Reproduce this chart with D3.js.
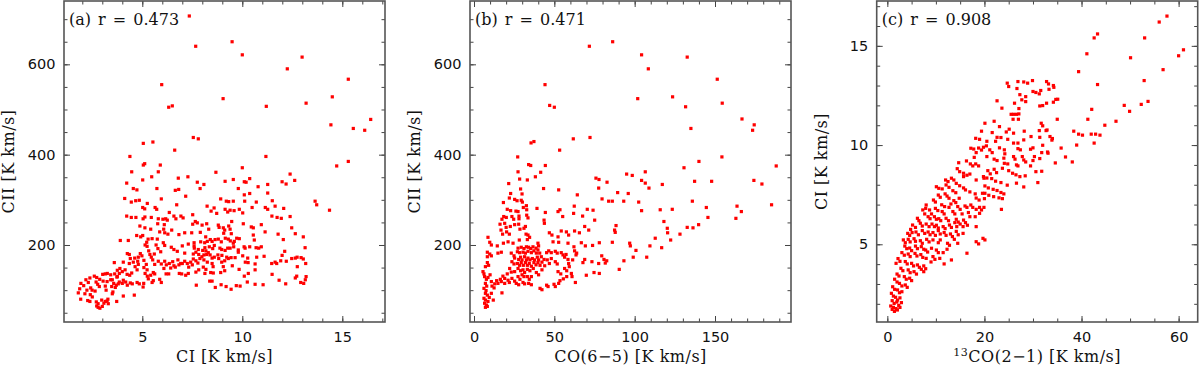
<!DOCTYPE html>
<html>
<head>
<meta charset="utf-8">
<script src="https://cdn.jsdelivr.net/npm/d3@7"></script>
<style>
body { margin: 0; background: #fff; }
svg text { fill: #111; }
</style>
</head>
<body>
<script>
/** panel (a): CI vs CII [K km/s] **/
var ciCii = [
[7.35,707],[7.67,640],[9.49,650],[10.0,621],[12.99,616],[12.25,590],[15.3,567],[5.97,555],[9.04,524],[14.5,528],[13.19,514],[6.32,505],[6.5,508],[11.2,507],[16.42,478],[14.43,466],[15.55,458],[16.12,454],[15.3,385],[14.72,375],[14.36,277],[13.64,297],[13.72,289],
[5.05,425],[5.53,428],[4.38,396],[6.62,410],[5.05,377],[5.12,380],[5.9,377],[4.47,362],[5.02,344],[5.47,351],[5.8,362],[6.8,348],[7.28,351],[4.22,337],[4.55,325],[4.73,322],[5.73,325],[6.65,321],[6.82,323],[4.12,303],[4.45,295],[4.67,298],[4.85,299],[5.95,302],[5.25,292],[7.17,308],
[5.02,283],[5.12,280],[5.64,283],[5.72,279],[6.35,272],[6.72,289],[6.93,264],[4.22,264],[4.45,261],[4.68,261],[5.04,258],[5.13,262],[5.45,261],[5.8,258],[6.03,257],[6.17,258],[6.25,255],[6.58,264],[6.68,258],[7.04,260],[4.88,242],[5.13,238],[5.42,235],[5.77,247],[6.1,245],[5.87,229],[6.07,235],[6.12,227],[6.28,224],[6.47,233],[6.83,223],[7.12,227],[4.72,221],[4.92,218],[5.02,221],[5.29,213],[5.49,214],[5.75,213],[5.22,206],[5.14,200],[5.24,197],[6.05,205],[6.12,199],[5.69,200],[3.9,210],[4.3,210],[4.25,181],[4.35,179],[4.9,181],[5.32,187],[5.6,180],[5.78,192],[5.92,185],[6.45,195],[6.58,190],[6.75,186],[7.0,198],[7.3,202],[7.12,182],
[3.6,161],[4.05,162],[4.4,170],[4.62,171],[4.8,173],[4.98,176],[4.35,159],[4.55,162],[4.77,164],[4.8,157],[5.08,166],[5.2,157],[5.38,179],[5.45,173],[5.52,167],[5.62,157],[5.8,164],[5.95,158],[6.12,164],[6.2,156],[6.35,159],[6.52,163],[6.78,167],[7.0,159],[7.12,164],[7.25,159],[7.42,162],[6.08,148],[6.32,136],[6.85,137],[6.97,136],[7.3,137],[5.08,150],[5.24,145],[5.55,139],[5.62,136],[4.64,152],[4.74,145],[4.47,138],[4.24,135],[4.37,133],[4.14,145],[3.88,148],[4.0,141],[3.75,144],[3.85,137],[3.62,136],[3.75,130],[3.25,137],[3.42,134],[3.5,123],[3.57,115],[3.73,129],[3.42,123],[3.47,108],[3.24,119],[3.15,109],[3.19,100],[3.02,135],[2.87,124],[2.6,131],[2.72,128],[2.38,127],[2.18,123],[2.3,117],[1.93,115],[2.07,110],[1.87,103],[1.8,94],[1.92,80],[2.13,92],[2.23,100],[2.42,105],[2.49,100],[2.69,118],[2.77,113],[3.04,120],[3.15,136],[2.85,108],[2.64,98],[2.4,90],[2.5,85],[2.27,77],[2.38,75],[2.7,74],[2.79,70],[2.72,65],[2.79,62],[2.88,60],[3.0,64],[3.08,71],[3.15,75],[3.24,76],[3.3,70],[3.28,80],[2.97,78],[3.5,92],[3.53,96],[3.65,106],[3.72,75],[4.05,87],[4.6,89],[5.04,107],[5.07,115],[4.74,117],[4.85,114],[4.4,116],[4.5,114],[4.25,111],[4.05,122],[4.17,118],[3.85,118],[4.0,115],[3.7,111],[3.8,114],[5.49,117],[5.55,121],[5.3,125],[5.42,133],[5.14,137],[5.25,131],[5.87,124],[5.95,117],[6.19,136],[6.42,149],[6.58,154],[6.65,151],[6.83,156],[6.92,159],[7.32,151],[7.17,133],
[7.55,438],[7.8,435],[11.18,396],[10.0,371],[8.68,361],[12.39,357],[7.75,339],[8.08,334],[9.14,341],[9.55,345],[10.1,340],[10.19,339],[10.37,347],[11.99,340],[12.19,335],[12.62,343],[7.89,325],[9.8,325],[10.79,329],[11.27,334],[10.1,311],[10.37,314],[11.27,315],[8.92,302],[9.2,297],[9.32,296],[9.55,297],[10.12,297],[10.7,295],[11.5,298],[11.64,286],[12.07,281],[8.24,286],[8.44,275],[8.59,282],[8.72,270],[9.14,279],[9.27,273],[9.39,277],[9.59,276],[9.85,279],[10.02,271],[10.49,283],[11.15,283],[11.27,279],[11.48,264],[11.74,261],[11.95,259],[12.39,263],[7.52,267],[7.65,252],[7.75,249],[7.99,244],[8.22,247],[8.32,235],[8.8,244],[8.84,239],[9.05,238],[9.12,233],[9.32,242],[9.39,235],[9.47,252],[9.07,226],[9.45,225],[10.05,247],[10.45,240],[10.55,238],[10.55,222],[10.6,211],[10.95,245],[11.14,229],[11.79,224],[12.05,212],[12.47,238],[12.65,225],[13.05,218],[13.14,194],[7.52,246],[7.47,227],[7.9,228],[8.17,218],[8.4,212],[8.49,208],[8.64,212],[8.8,213],[8.95,207],[9.15,215],[9.3,213],[9.6,208],[9.72,215],[9.85,214],[9.4,209],[9.55,204],[9.57,196],[7.59,205],[7.59,198],[7.6,193],[7.92,207],[8.12,205],[8.25,208],[8.35,196],[8.52,192],[8.6,199],[8.88,193],[8.97,190],[9.14,188],[9.27,193],[9.39,193],[9.8,189],[10.09,196],[10.14,193],[10.37,196],[10.69,194],[10.82,193],[10.95,196],[7.8,190],[8.02,188],[8.13,194],[8.18,187],
[7.55,180],[7.68,184],[7.82,179],[7.98,174],[8.08,178],[8.22,179],[8.3,183],[8.39,178],[8.49,171],[8.6,173],[8.78,178],[8.98,177],[9.22,173],[9.44,172],[9.8,184],[10.02,176],[10.27,171],[10.72,173],[11.09,175],[7.55,169],[7.68,165],[7.88,170],[8.08,167],[7.78,160],[8.25,162],[8.49,159],[8.82,170],[8.97,162],[9.12,165],[9.3,170],[9.64,172],[7.5,156],[8.05,151],[8.18,146],[8.54,152],[9.05,152],[9.12,143],[9.5,154],[9.84,146],[10.15,162],[10.29,161],[10.64,158],[10.64,145],[10.3,137],[10.1,131],[11.47,159],[11.64,162],[11.72,159],[11.99,177],[12.12,186],[11.92,165],[12.2,164],[12.47,170],[12.65,171],[12.74,173],[12.94,172],[13.05,169],[13.17,159],[12.75,152],[7.68,140],[7.82,145],[8.13,137],[8.42,139],[8.55,138],[8.92,139],[8.37,120],[8.49,120],[7.7,111],[8.65,106],[8.94,112],[9.19,108],[9.44,102],[9.7,110],[9.89,109],[10.25,118],[10.64,113],[11.04,112],[11.49,135],[11.84,122],[12.17,114],[12.65,127],[12.72,131],[12.92,117],[13.07,115],[13.15,123],[13.19,130]
];

/** panel (b): CO(6-5) vs CII [K km/s] **/
var co65Cii = [
[71.8,640],[86.3,650],[104.3,621],[108.5,590],[132.7,616],[151.4,567],[44.2,555],[101.9,524],[123.6,528],[154.5,514],[47.1,509],[50,505],[131.7,506],[166.8,479],[174.4,466],[173.4,454],[135,458],[72.2,438],[61.8,435],[35.5,426],[37.3,429],[53.3,410],[27.2,395],[154.3,395],[188.1,375],[140,385],[130.7,371],[106.6,362],[95,357],[98.5,354],[104.3,343],[106.6,337],[82.8,339],[137.3,341],[147.9,341],[174.2,343],[179.2,335],[117.2,334],[108.9,326],[77.6,326],[89.4,316],[96,314],[79.7,302],[83.8,297],[86.1,297],[93.2,297],[102.5,295],[135.9,297],[185.2,289],[163.7,286],[166.4,274],[144.6,283],[115.9,278],[123.4,279],[104.3,276],[163,259],[145.6,261],[139.8,245],[132.7,239],[136.3,238],[118.2,252],[120.3,237],[120.5,227],[128.2,224],[122.4,211],[112.8,215],[109.5,198],[100.8,188],[96.9,204],[97.3,198],[116.8,194],[107.5,173],[99.1,173],[93.3,165],[90.4,146],[87.5,233],[87.9,228],[88.4,243],[86.1,206],[78,205],[79.5,176],[80.9,168],[81.7,160],[82.6,165],[77.6,159],[78,137],[75.9,348],[77.8,345],
[21.6,336],[27.4,362],[28.4,346],[33.2,344],[38.2,351],[41.5,361],[44.4,376],[34,378],[35.3,376],[43.3,325],[52.7,322],[29.0,324],[22.8,314],[25.3,301],[26.8,298],[29.4,299],[30.1,295],[29.9,313],[30.7,283],[32.6,287],[18.3,294],[22,304],[20.7,279],[22.8,276],[26.1,275],[27.4,274],[32.8,278],[18.5,263],[20.1,261],[17.4,257],[23.6,263],[24.7,257],[28,264],[28,258],[32.8,266],[33.6,260],[39.2,281],[44.4,272],[52.3,274],[53.5,278],[55.2,263],[62.4,286],[64.3,311],[70.5,279],[74.1,277],[67.6,264],[62,270],[16.2,246],[19.1,248],[20,239],[22.6,241],[25.3,245],[16.8,233],[17.8,224],[20.3,229],[22,224],[27.8,246],[28.6,235],[31.1,237],[32,241],[32.4,224],[33.6,222],[34.6,217],[33.2,212],[18.3,204],[21.2,207],[24.3,204],[28.2,211],[8.7,217],[9.8,206],[10.8,200],[14.5,198],[43.6,255],[43.8,248],[46.9,227],[48.5,222],[52.3,218],[54.3,231],[57.5,229],[58.9,222],[62.6,231],[65.6,227],[68.9,241],[71.4,233],[75.1,255],[49.2,207],[52.7,206],[39.8,204],[40.2,198],[58.5,204],[62.2,196],[66.8,205],[69.3,198],[73.8,199],
[8.3,184],[8.3,174],[9.8,180],[10.8,176],[14.9,182],[17,184],[23.2,182],[24.9,176],[27.4,193],[29.4,195],[31.1,192],[32.6,196],[34,195],[35.3,192],[36.7,196],[38.6,193],[39.8,189],[27,185],[28.4,183],[30.5,184],[32,182],[33.6,186],[35.7,183],[37.3,187],[38.8,182],[40.9,182],[45.2,183],[46.5,187],[48.1,183],[50.6,186],[51.8,182],[54.3,183],[55.4,178],[57.3,179],[62.6,187],[63.9,182],[25.3,171],[27.8,168],[29,173],[29.9,167],[31.5,174],[32.6,167],[33.6,171],[34.8,167],[36.3,170],[37.7,167],[39.4,173],[40.2,167],[41.9,174],[43.6,168],[23.6,163],[24.9,158],[27,159],[28.4,155],[29.4,161],[30.7,155],[32,161],[33.2,155],[34.4,159],[35.7,153],[37.3,161],[38.6,156],[39.8,161],[41.1,155],[42.3,162],[36.9,148],[33.2,146],[34.8,143],[30.5,145],[31.5,139],[27.4,148],[29,143],[25.3,141],[22.2,148],[23.2,140],[20.7,136],[18.0,131],[19.1,126],[16.4,124],[17,119],[14.1,121],[14.9,115],[12.9,114],[17.4,94],[19.1,115],[21.2,122],[22,117],[23.6,126],[25.3,120],[27.4,130],[28.6,124],[29.9,134],[31.1,130],[33.2,130],[34.4,124],[35.7,130],[38.8,139],[40.2,134],[42.3,145],[44,154],[45.6,167],[46.9,159],[26.3,115],[27.8,112],[30.5,117],[31.5,114],[34,115],[35.7,112],[41.1,104],[42.3,101],[45.2,111],[46.1,108],[49.8,113],[50.6,108],[52.7,115],[53.5,121],[55.6,125],[57.7,130],[60.6,137],[61,130],[63.1,117],[52.3,141],[54,136],[56.4,148],[57.7,143],[58.9,159],[59.3,152],[61.4,167],[63.5,178],[67.8,161],[68.9,168],[73.4,163],[69.9,133],[74.7,139],[56.4,173],[58.5,168],[50.6,163],[51.8,158],[48.1,170],
[5.6,141],[6.2,136],[7.1,152],[8.3,161],[9.1,155],[6.6,130],[7.7,124],[8.7,128],[10,134],[10.8,119],[11.2,109],[12.5,105],[7.1,115],[7.9,109],[6.2,104],[7.5,99],[7.1,93],[8.3,89],[6.2,82],[7.1,78],[6.6,71],[7.7,67],[7.1,62],[8.3,64],[8.7,75],[9.5,84],[10.8,93],[12,78]
];

/** panel (c): 13CO(2-1) vs CI [K km/s] **/
var co13Ci = [
[57.6,16.5],[56.0,16.2],[43.3,15.6],[42.6,15.4],[53.0,15.4],[61.0,14.8],[41.1,14.6],[60.0,14.5],[50.1,14.4],[39.4,13.7],[56.8,13.8],[52.9,13.25],[43.3,13.05],[53.7,12.2],[52.3,12.05],[48.8,12.0],[49.9,11.7],[42.1,11.8],[41.3,11.3],[47.1,11.2],[44.8,11.0],[38.4,10.7],[39.4,10.55],[40.2,10.5],[42.0,10.55],[42.9,10.55],[43.8,10.5],[42.6,10.1],[39.0,10.0],[36.7,9.4],[38.1,9.15],[35.8,9.85],[35.0,11.3],[34.7,12.3],[34.6,9.1],[33.0,9.65],[33.9,10.25],[23.5,6.76],
[24.7,13.12],[25,12.95],[26.9,13.2],[28.1,13.18],[28.9,13.12],[29.9,13.25],[32.8,13.2],[33.2,13.08],[34.2,13.0],[34.3,12.91],[26.7,12.85],[30,12.7],[30.6,12.65],[31.6,12.75],[31.3,12.58],[33.3,12.81],[27.3,12.54],[28.5,12.44],[28.5,12.19],[27.7,12.28],[35.1,12.31],[34.2,12.16],[32.8,12.11],[32,11.99],[31.4,11.97],[22.6,12.23],[23.6,11.86],[26.2,12.11],[25.5,11.55],[26.0,11.55],[26.6,11.55],[27.1,11.57],[27.1,11.84],[25.9,11.3],[27,11.3],[22.0,11.2],[23.1,10.93],[25.1,10.8],[24.5,10.66],[26.0,10.6],[28.2,10.7],[31.7,11.1],[32,10.97],[32.7,10.73],[32.9,10.76],[31.3,10.73],[29.6,10.43],[33.5,10.43],[34,10.33],[21.6,10.63],[22.6,10.39],[20.5,10.19],[22.3,10.19],[23.4,10.38],[24.8,10.29],[26,10.1],[26.9,10.1],[28.1,10.26],[31.4,10.39],[32,9.99],[19.8,9.89],[20.4,9.96],[21.1,9.76],[21.6,9.62],[23.1,9.86],[24.1,9.76],[26.9,9.82],[27.4,9.76],[29.5,9.79],[30,9.86],[33.1,9.59],[20.5,9.42],[22.0,9.29],[22.6,9.22],[24.2,9.56],[24,9.34],[26.0,9.42],[26.3,9.29],[27.8,9.42],[28.1,9.25],[30.3,9.42],[30.0,9.22],[31.8,9.62],[31.4,9.32],[26.6,9.0],[26.9,8.95],[24.1,9.08],[24.8,9.05],[28.5,9.15],[29.5,8.95],[30.6,8.66],[31.8,8.68],[20.7,8.71],[21.2,8.55],[22.0,8.78],[22.5,8.61],[23.7,8.83],[25,8.71],[25.8,8.58],[26.5,8.5],[27.3,8.41],[28.4,8.45],[31,8.11],[19.8,8.41],[20.5,8.34],[21.5,8.31],[22.3,8.18],[23.4,8.11],[24.7,7.98],[28.1,7.89],[20.1,7.94],[20.8,7.84],[21.8,7.77],[22.6,7.71],[23.4,7.61],[24,7.54],[20.1,7.57],[20.9,7.47],[21.9,7.4],[23,7.34],[23.7,7.3],[26.6,8.08],
[20.1,11.1],[19.4,10.7],[18.2,10.34],[19.0,10.29],[17.2,9.84],[17.8,9.8],[18.8,9.85],[19.4,9.75],[18.3,9.62],[17.9,9.38],[14.7,9.11],[16.3,9.2],[14.4,8.81],[17.1,9.05],[17.6,8.95],[18.2,9.05],[18.8,8.95],[14.9,8.66],[15.7,8.58],[15.7,8.41],[16.4,8.48],[17,8.54],[18.3,8.24],[19.9,8.33],[12,8.24],[12.5,8.16],[13.2,8.33],[13.7,8.24],[10.1,7.9],[10.6,7.82],[11.3,7.79],[12.1,7.99],[12.7,7.87],[14.2,8.07],[14.9,7.95],[13.5,7.7],[14.1,7.6],[15.7,7.84],[16.1,7.74],[17,7.64],[18.1,7.54],[19.6,7.57],[18.3,7.33],[18.9,7.23],[20,7.3],[10.5,7.48],[10.9,7.37],[11.9,7.54],[12.3,7.43],[12.7,7.32],[9.5,7.23],[9.9,7.13],[13.7,7.2],[14.1,7.1],[14.8,7.32],[11.2,6.99],[11.8,6.9],[12.7,6.86],[13.1,7.03],[14.5,6.9],[15,6.76],[16,6.93],[16.4,6.86],[17.2,6.98],[17.6,6.86],[18.3,6.76],[19,6.86],[19.4,6.73],[19.9,6.86],[8,6.98],[7.9,6.81],[7.3,6.73],[7.7,6.53],[8.7,6.73],[9.1,6.53],[9.9,6.81],[10.4,6.7],[11.3,6.65],[11.7,6.53],[13.5,6.65],[13.9,6.53],[15.4,6.53],[16.7,6.6],[17,6.39],[18.1,6.39],[19,6.56],[8.4,6.39],[8.8,6.29],[9.7,6.39],[10.1,6.26],[10.6,6.29],[11,6.19],[12.1,6.31],[12.6,6.19],[14.2,6.26],[14.6,6.12],[15.7,6.22],[16.1,6.09],[6.2,6.31],[6.5,6.19],[5.2,5.97],[5.8,5.85],[6.8,6.06],[7.2,5.92],[8,6.02],[8.6,5.89],[9.2,6.02],[9.7,5.89],[10.1,5.96],[10.5,5.82],[11.5,5.89],[11.9,5.79],[12.8,5.97],[13.2,5.85],[13.9,6.09],[14.3,5.89],[15,6.02],[15.6,5.89],[16.5,5.96],[18.3,5.89],
[4.8,5.75],[5.1,5.59],[4.2,5.55],[4.6,5.45],[5.9,5.62],[6.4,5.48],[7.2,5.69],[7.7,5.55],[8.4,5.62],[8.8,5.48],[9.4,5.59],[9.9,5.45],[10.5,5.69],[10.9,5.52],[11.7,5.59],[12.1,5.45],[13,5.52],[13.4,5.39],[14.2,5.65],[14.6,5.48],[15.6,5.55],[18.3,5.13],[18.8,5.02],[19.7,5.3],[20.1,5.22],[3.3,5.22],[3.7,5.08],[4.3,5.25],[4.7,5.12],[5.5,5.28],[5.8,5.15],[6.8,5.18],[7.2,5.05],[8.1,5.25],[8.6,5.12],[9.4,5.22],[10.5,5.08],[10.9,5.22],[12.4,5.05],[12.8,4.95],[13.8,5.25],[14.5,5.05],[16.4,4.55],[3.6,4.91],[4,4.78],[4.6,4.81],[5,4.68],[5.8,4.91],[6.2,4.78],[7,4.88],[7.5,4.75],[7.9,4.71],[8.3,4.61],[9.1,4.8],[10.1,4.71],[10.5,4.58],[11.5,4.58],[12.3,4.75],[3.0,4.58],[3.5,4.45],[4.3,4.51],[4.7,4.38],[5.7,4.54],[6.1,4.41],[6.9,4.48],[7.3,4.34],[8,4.29],[9.4,4.38],[9.8,4.24],[10.8,4.29],[2.2,4.28],[2.6,4.14],[1.8,4.04],[3.7,4.13],[4.1,4.01],[5,4.04],[5.4,3.91],[6.2,3.96],[6.6,3.84],[7.5,3.91],[7.9,3.77],[9,4.11],[11.7,4.01],[13.2,4.21],[2.8,3.79],[3.2,3.67],[4.3,3.71],[4.7,3.57],[5.5,3.62],[6,3.5],[7,3.74],[7.5,3.62],[2,3.5],[2.4,3.4],[3.5,3.37],[3.9,3.24],[4.6,3.29],[5,3.17],[1.5,3.24],[2,3.1],[2.5,3.03],[3,2.9],[3.7,2.95],[4.1,2.83],[1.1,2.86],[1.5,2.73],[2.1,2.7],[2.5,2.56],[3.0,2.61],[0.84,2.53],[1.25,2.39],[1.7,2.33],[2.1,2.19],[2.6,2.3],[1.0,2.16],[1.4,2.02],[1.94,2.09],[2.9,2.06],[0.7,1.89],[1.25,1.82],[1.8,1.76],[2.35,1.92],[2.6,1.82],[2.07,1.69],[1.46,1.62],[1.0,1.72]
];

/** tick values **/
var ciTicks = [5, 10, 15];
var ciiTicks = [200, 400, 600];
var co65Ticks = [0, 50, 100, 150];
var co13Ticks = [0, 20, 40, 60];
var ciTicksC = [5, 10, 15];

var tags = ["(a) r = 0.473", "(b) r = 0.471", "(c) r = 0.908"];

var width = 1200, height = 366;
// note: "top" is reserved on window, so use plotTop
var plotTop = 1, plotBottom = 322, plotW = 321;

var svg = d3.select("body").append("svg")
    .attr("width", width).attr("height", height);

var panels = [
    { data: ciCii, left: 64, xDom: [1.085, 17.135], yDom: [29.5, 740.2],
      xTicks: ciTicks, xMinor: 1, yTicks: ciiTicks, yMinor: 50,
      xLabel: ["CI [K km/s]"], yLabel: "CII [K km/s]", tag: tags[0] },
    { data: co65Cii, left: 470, xDom: [-2.49, 197.3], yDom: [29.5, 740.2],
      xTicks: co65Ticks, xMinor: 10, yTicks: ciiTicks, yMinor: 50,
      xLabel: ["CO(6\u22125) [K km/s]"], yLabel: "CII [K km/s]", tag: tags[1] },
    { data: co13Ci, left: 876.7, xDom: [-2.19, 63.93], yDom: [1.084, 17.26],
      xTicks: co13Ticks, xMinor: 5, yTicks: ciTicksC, yMinor: 1,
      xLabel: ["13", "CO(2\u22121) [K km/s]"], yLabel: "CI [K km/s]", tag: tags[2] }
];

function minors(dom, step) {
    var lo = Math.min(dom[0], dom[1]), hi = Math.max(dom[0], dom[1]);
    return d3.range(Math.ceil(lo / step) * step, hi, step);
}

function styleAxis(g) {
    g.select(".domain").remove();
    g.selectAll(".tick line").attr("stroke", "#444");
}

function drawPanel(p) {
    var x = d3.scaleLinear().domain(p.xDom).range([p.left, p.left + plotW]);
    var y = d3.scaleLinear().domain(p.yDom).range([plotBottom, plotTop]);
    var g = svg.append("g");

    // minor ticks on all sides (inside)
    var minorAxes = [
        [d3.axisBottom(x).tickValues(minors(p.xDom, p.xMinor)), "translate(0," + plotBottom + ")"],
        [d3.axisTop(x).tickValues(minors(p.xDom, p.xMinor)), "translate(0," + plotTop + ")"],
        [d3.axisLeft(y).tickValues(minors(p.yDom, p.yMinor)), "translate(" + p.left + ",0)"],
        [d3.axisRight(y).tickValues(minors(p.yDom, p.yMinor)), "translate(" + (p.left + plotW) + ",0)"]
    ];
    minorAxes.forEach(function(a) {
        g.append("g").attr("transform", a[1])
            .call(a[0].tickSize(-3.5).tickFormat(""))
            .call(styleAxis);
    });

    // major ticks, labels on bottom/left only
    var xb = g.append("g").attr("transform", "translate(0," + plotBottom + ")")
        .call(d3.axisBottom(x).tickValues(p.xTicks).tickSize(-6).tickPadding(9.5).tickFormat(d3.format("d")))
        .call(styleAxis);
    var yl = g.append("g").attr("transform", "translate(" + p.left + ",0)")
        .call(d3.axisLeft(y).tickValues(p.yTicks).tickSize(-6).tickPadding(8.5).tickFormat(d3.format("d")))
        .call(styleAxis);
    g.append("g").attr("transform", "translate(0," + plotTop + ")")
        .call(d3.axisTop(x).tickValues(p.xTicks).tickSize(-6).tickFormat(""))
        .call(styleAxis);
    g.append("g").attr("transform", "translate(" + (p.left + plotW) + ",0)")
        .call(d3.axisRight(y).tickValues(p.yTicks).tickSize(-6).tickFormat(""))
        .call(styleAxis);

    [xb, yl].forEach(function(a) {
        a.selectAll(".tick text")
            .attr("font-family", "DejaVu Sans, sans-serif")
            .attr("font-size", 14.5)
            .attr("fill", "#111");
    });

    // frame
    g.append("rect")
        .attr("x", p.left).attr("y", plotTop)
        .attr("width", plotW).attr("height", plotBottom - plotTop)
        .attr("fill", "none").attr("stroke", "#555").attr("stroke-width", 1.6);

    // points
    g.append("g").selectAll("rect")
        .data(p.data)
        .enter().append("rect")
        .attr("x", d => x(d[0]) - 1.6)
        .attr("y", d => y(d[1]) - 1.6)
        .attr("width", 3.2).attr("height", 3.2)
        .attr("fill", "#ff0000");

    // annotation
    g.append("text")
        .attr("x", p.left + 5).attr("y", 25)
        .attr("font-family", "DejaVu Serif, serif")
        .attr("font-size", 16)
        .attr("word-spacing", 2)
        .text(p.tag);

    // axis labels
    var xt = g.append("text")
        .attr("x", p.left + plotW / 2).attr("y", 362)
        .attr("text-anchor", "middle")
        .attr("font-family", "DejaVu Serif, serif")
        .attr("font-size", 16)
        .attr("letter-spacing", 0.5);
    if (p.xLabel.length > 1) {
        xt.append("tspan").attr("font-size", 11).attr("dy", -6).text(p.xLabel[0]);
        xt.append("tspan").attr("dy", 6).text(p.xLabel[1]);
    } else {
        xt.text(p.xLabel[0]);
    }

    g.append("text")
        .attr("transform", "translate(" + (p.left - 50) + "," + ((plotTop + plotBottom) / 2) + ") rotate(-90)")
        .attr("text-anchor", "middle")
        .attr("font-family", "DejaVu Serif, serif")
        .attr("font-size", 16)
        .attr("letter-spacing", 0.5)
        .text(p.yLabel);
}

panels.forEach(drawPanel);
</script>
</body>
</html>
